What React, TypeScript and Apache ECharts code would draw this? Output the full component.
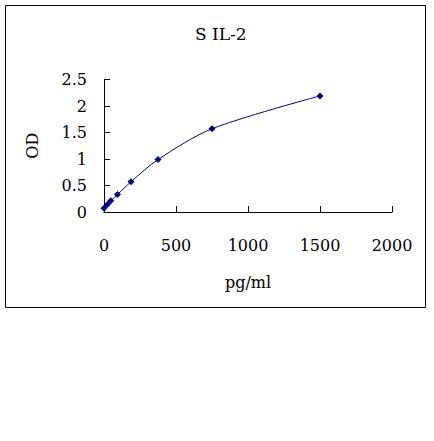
import React, { useEffect, useRef } from "react";
import * as echarts from "echarts";

const concentrations = [0, 23.4, 46.875, 93.75, 187.5, 375, 750, 1500];
const odValues = [0.07, 0.14, 0.21, 0.33, 0.57, 0.99, 1.57, 2.19];
const titleText = "S IL-2";
const xName = "pg/ml";
const yName = "OD";

const FONT = "'DejaVu Serif', 'Liberation Serif', serif";

export default function App() {
  const ref = useRef<HTMLDivElement>(null);
  useEffect(() => {
    document.body.style.margin = "0";
    const chart = echarts.init(ref.current!, null, { renderer: "svg" });
    chart.setOption({
      animation: false,
      backgroundColor: "#ffffff",
      title: {
        text: titleText,
        left: 190,
        top: 20,
        textStyle: { fontFamily: FONT, fontSize: 17, fontWeight: "normal", color: "#000" },
      },
      graphic: [
        {
          type: "rect",
          shape: { x: 5.5, y: 5.5, width: 420, height: 302 },
          style: { fill: "none", stroke: "#000", lineWidth: 1 },
          silent: true,
        },
      ],
      grid: { left: 104, top: 79.5, right: 42, bottom: 229 },
      xAxis: {
        type: "value",
        min: 0,
        max: 2000,
        interval: 500,
        name: xName,
        nameLocation: "middle",
        nameGap: 62,
        nameTextStyle: { fontFamily: FONT, fontSize: 16, color: "#000" },
        axisLine: { show: true, lineStyle: { color: "#000", width: 1 } },
        axisTick: { show: true, inside: true, length: 6, lineStyle: { color: "#000" } },
        axisLabel: {
          fontFamily: FONT,
          fontSize: 16,
          color: "#000",
          margin: 25,
          formatter: (v: number) => String(v),
        },
        splitLine: { show: false },
      },
      yAxis: {
        type: "value",
        min: 0,
        max: 2.5,
        interval: 0.5,
        name: yName,
        nameLocation: "middle",
        nameGap: 64,
        nameTextStyle: { fontFamily: FONT, fontSize: 16, color: "#000" },
        axisLine: { show: true, lineStyle: { color: "#000", width: 1 } },
        axisTick: { show: true, inside: true, length: 6, lineStyle: { color: "#000" } },
        axisLabel: {
          fontFamily: FONT,
          fontSize: 16,
          color: "#000",
          margin: 17,
          formatter: (v: number) => String(v),
        },
        splitLine: { show: false },
      },
      series: [
        {
          type: "line",
          data: concentrations.map((c, i) => [c, odValues[i]]),
          smooth: 0.3,
          symbol: "diamond",
          symbolSize: 7,
          lineStyle: { color: "#000080", width: 1 },
          itemStyle: { color: "#000080" },
        },
      ],
    });
    return () => chart.dispose();
  }, []);
  return (
    <div
      ref={ref}
      style={{ position: "fixed", left: 0, top: 0, width: 434, height: 441 }}
    />
  );
}
